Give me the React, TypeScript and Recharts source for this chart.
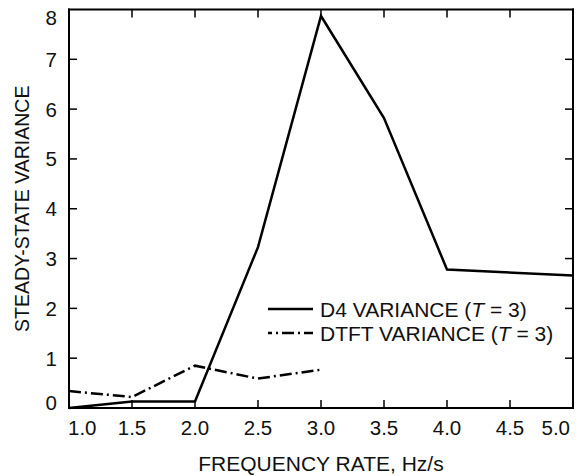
import React from "react";
import { LineChart, Line, XAxis, YAxis, Legend, CartesianGrid } from "recharts";

const freq = [1.0, 1.5, 2.0, 2.5, 3.0, 3.5, 4.0, 5.0];
const d4Variance = [0.0, 0.13, 0.13, 3.23, 7.87, 5.82, 2.78, 2.66];
const dtftVariance = [0.34, 0.22, 0.85, 0.59, 0.77, null, null, null];
const xTicks = [1.0, 1.5, 2.0, 2.5, 3.0, 3.5, 4.0, 4.5, 5.0];
const yTicks = [0, 1, 2, 3, 4, 5, 6, 7, 8];

const data = freq.map((f, i) => ({ f, d4: d4Variance[i], dtft: dtftVariance[i] }));

const FONT = "'Liberation Sans', Arial, Helvetica, sans-serif";
const DASHDOT = "12 4 2 4";
const TICK_LEN = 8;

const axisLine = { stroke: "#000", strokeWidth: 2 };
// axis tick lines stay hidden, the inward marks come from the grid renderers
const tickLine = { stroke: "none", strokeWidth: 1.5 };

// bottom labels; the end ones are pulled inside the frame
const BottomTick = (p: any) => {
  const v = p.payload.value;
  const anchor = v === 1 ? "start" : v === 5 ? "end" : "middle";
  const dx = v === 1 ? -1 : v === 5 ? -3 : 0;
  return (
    <text x={p.x + dx} y={p.y} dy="0.71em" textAnchor={anchor}
      fontFamily={FONT} fontSize={20.5} fill="#111">
      {v.toFixed(1)}
    </text>
  );
};

const LeftTick = (p: any) => {
  const v = p.payload.value;
  const dy = v === 8 ? 8 : v === 0 ? -5 : 0;
  return (
    <text x={p.x} y={p.y + dy} dy="0.36em" textAnchor="end"
      fontFamily={FONT} fontSize={20.5} fill="#111">
      {v}
    </text>
  );
};

const YTitle = (p: any) => {
  const { x, y, height } = p.viewBox;
  const cx = x + 22;
  const cy = y + height / 2;
  return (
    <text x={cx} y={cy} transform={`rotate(-90 ${cx} ${cy})`} textAnchor="middle"
      dominantBaseline="central" fontFamily={FONT} fontSize={19.5} fill="#111">
      STEADY-STATE VARIANCE
    </text>
  );
};

// grid lines: the outermost ones become the frame, the rest only inward tick marks
const HLine = (p: any) => {
  const n = p.horizontalPoints?.length ?? yTicks.length;
  const edge = p.index === 0 || p.index === n - 1;
  const left = Math.min(p.x1, p.x2);
  const right = Math.max(p.x1, p.x2);
  if (edge) {
    return <line key={p.key} x1={left - 1} x2={right + 1} y1={p.y1} y2={p.y1} stroke="#000" strokeWidth={2} />;
  }
  return (
    <g key={p.key}>
      <line x1={left} x2={left + TICK_LEN} y1={p.y1} y2={p.y1} stroke="#000" strokeWidth={1.5} />
      <line x1={right - TICK_LEN} x2={right} y1={p.y1} y2={p.y1} stroke="#000" strokeWidth={1.5} />
    </g>
  );
};
const VLine = (p: any) => {
  const n = p.verticalPoints?.length ?? xTicks.length;
  const edge = p.index === 0 || p.index === n - 1;
  const top = Math.min(p.y1, p.y2);
  const bot = Math.max(p.y1, p.y2);
  if (edge) {
    return <line key={p.key} x1={p.x1} x2={p.x1} y1={top - 1} y2={bot + 1} stroke="#000" strokeWidth={2} />;
  }
  return (
    <g key={p.key}>
      <line x1={p.x1} x2={p.x1} y1={top} y2={top + TICK_LEN} stroke="#000" strokeWidth={1.5} />
      <line x1={p.x1} x2={p.x1} y1={bot - TICK_LEN} y2={bot} stroke="#000" strokeWidth={1.5} />
    </g>
  );
};

const legendItems = [
  { name: "D4 VARIANCE", dash: undefined },
  { name: "DTFT VARIANCE", dash: DASHDOT },
];

const LegendBox = () => (
  <svg width={300} height={50}>
    {legendItems.map((it, i) => (
      <g key={it.name}>
        <line x1={6} x2={51} y1={12 + i * 24} y2={12 + i * 24}
          stroke="#000" strokeWidth={2.5} strokeDasharray={it.dash} strokeDashoffset={-14} />
        <text x={58} y={12 + i * 24} dominantBaseline="central"
          fontFamily={FONT} fontSize={21} fill="#111">
          {it.name} (<tspan fontStyle="italic">T</tspan> = 3)
        </text>
      </g>
    ))}
  </svg>
);

export default function App() {
  return (
    <div style={{ position: "absolute", left: 0, top: 0, background: "#fff" }}>
      <LineChart width={582} height={476} data={data}
        margin={{ top: 9.5, right: 9, bottom: 0, left: 0 }}>
        <CartesianGrid stroke="#000" horizontal={HLine} vertical={VLine} />
        <XAxis dataKey="f" type="number" domain={[1, 5]} ticks={xTicks}
          height={68} tickSize={TICK_LEN} tickMargin={4}
          axisLine={axisLine} tickLine={tickLine} tick={BottomTick} interval={0}
          label={{ value: "FREQUENCY RATE, Hz/s", position: "insideBottom", offset: 5,
            fontFamily: FONT, fontSize: 21, fill: "#111" }} />
        <YAxis type="number" domain={[0, 8]} ticks={yTicks}
          width={69} tickSize={-TICK_LEN} tickMargin={20}
          axisLine={axisLine} tickLine={tickLine} tick={LeftTick} interval={0}
          label={{ content: YTitle }} />
        <Legend content={LegendBox} layout="horizontal" verticalAlign="middle" align="center"
          wrapperStyle={{ position: "absolute", left: 262, top: 297, width: 300 }} />
        <Line type="linear" dataKey="dtft" stroke="#000"
          strokeWidth={2.5} strokeDasharray={DASHDOT} dot={false} isAnimationActive={false} />
        <Line type="linear" dataKey="d4" stroke="#000"
          strokeWidth={2.5} dot={false} isAnimationActive={false} />
      </LineChart>
    </div>
  );
}
